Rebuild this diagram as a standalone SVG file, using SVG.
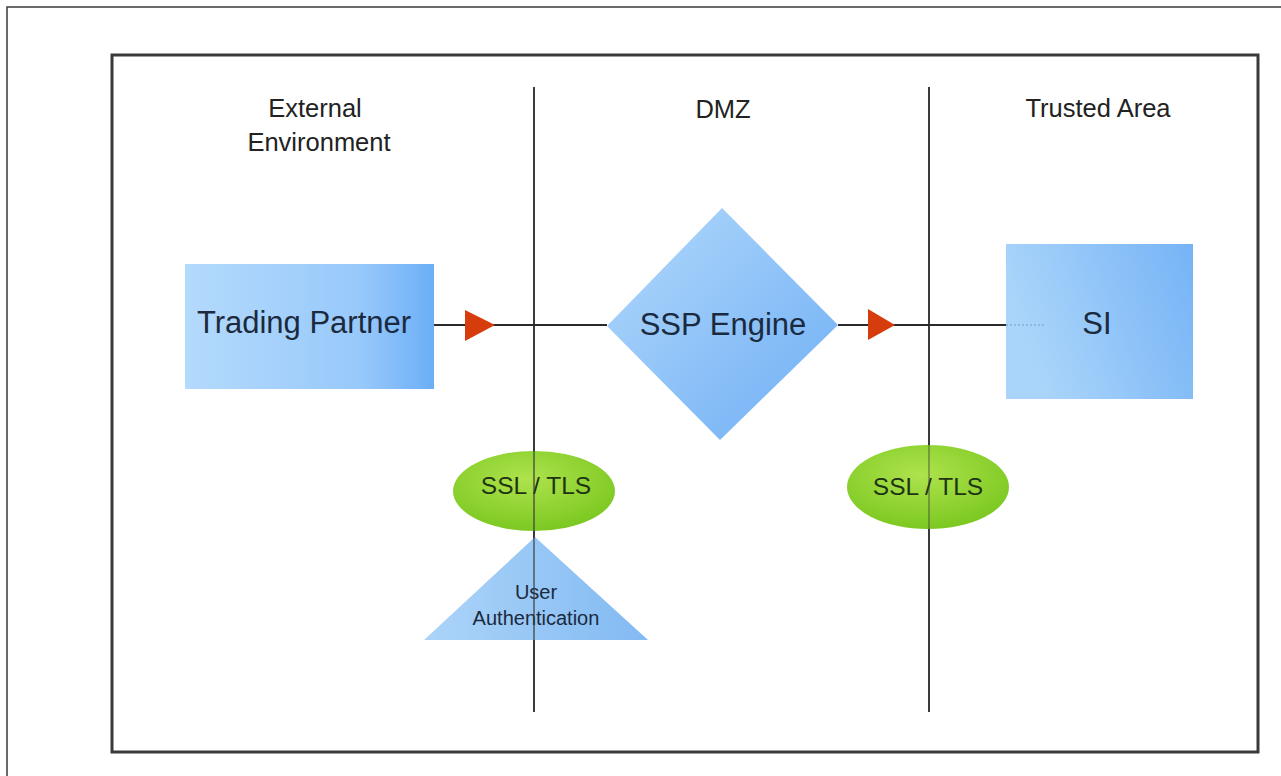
<svg xmlns="http://www.w3.org/2000/svg" width="1281" height="776" viewBox="0 0 1281 776">
  <style>
    .frame { fill: none; stroke: #3a3a3a; }
    .divider { stroke: #3a3a3a; stroke-width: 2; }
    .head { font-family: "Liberation Sans", Arial, sans-serif; font-size: 25.5px; fill: #222; text-anchor: middle; }
    .label { font-family: "Liberation Sans", Arial, sans-serif; fill: #1b2a3e; text-anchor: middle; }
    .green { font-family: "Liberation Sans", Arial, sans-serif; font-size: 24.5px; fill: #1e3412; text-anchor: middle; }
    .conn { stroke: #2a2a2a; stroke-width: 2; fill: none; }
    .head-tri { fill: #d63c0c; }
  </style>
  <defs>
    <linearGradient id="gTP" x1="0" y1="0" x2="1" y2="0">
      <stop offset="0" stop-color="#b4dafc"/>
      <stop offset="0.7" stop-color="#98c9fb"/>
      <stop offset="0.92" stop-color="#78b6f8"/>
      <stop offset="1" stop-color="#6aaef6"/>
    </linearGradient>
    <linearGradient id="gDia" x1="0" y1="0" x2="1" y2="1">
      <stop offset="0" stop-color="#b2d9fb"/>
      <stop offset="1" stop-color="#6eaef5"/>
    </linearGradient>
    <linearGradient id="gSI" x1="0" y1="0.3" x2="1" y2="0">
      <stop offset="0" stop-color="#aad5fa"/>
      <stop offset="1" stop-color="#76b3f6"/>
    </linearGradient>
    <linearGradient id="gTri" x1="0" y1="0" x2="1" y2="0">
      <stop offset="0" stop-color="#acd4f8"/>
      <stop offset="1" stop-color="#82baf3"/>
    </linearGradient>
    <radialGradient id="gGreen" cx="0.45" cy="0.35" r="0.65">
      <stop offset="0" stop-color="#aee34c"/>
      <stop offset="1" stop-color="#7cc822"/>
    </radialGradient>
  </defs>

  <rect width="1281" height="776" fill="#ffffff"/>
  <rect class="frame" x="7" y="7" width="1290" height="790" stroke-width="1.5"/>
  <rect class="frame" x="112" y="55" width="1146" height="697" stroke-width="3"/>

  <g id="headers">
    <text class="head" x="315" y="117">External</text>
    <text class="head" x="319" y="151">Environment</text>
    <text class="head" x="723" y="118">DMZ</text>
    <text class="head" x="1098" y="117">Trusted Area</text>
  </g>

  <g id="boundaries">
    <line class="divider" x1="534" y1="87" x2="534" y2="712"/>
    <line class="divider" x1="929" y1="87" x2="929" y2="712"/>
  </g>

  <g id="connectors">
    <line class="conn" x1="434" y1="325" x2="607" y2="325"/>
    <polygon class="head-tri" points="465,310 495,325 465,341"/>
    <line class="conn" x1="838" y1="325" x2="1006" y2="325"/>
    <polygon class="head-tri" points="868,309 895,325 868,340"/>
  </g>

  <g id="trading-partner">
    <rect x="185" y="264" width="249" height="125" fill="url(#gTP)"/>
    <text class="label" x="304" y="333" font-size="31">Trading Partner</text>
  </g>

  <g id="ssp-engine">
    <polygon points="722,208 838,325 720,440 607,326" fill="url(#gDia)"/>
    <text class="label" x="723" y="335" font-size="31">SSP Engine</text>
  </g>

  <g id="si">
    <rect x="1006" y="244" width="187" height="155" fill="url(#gSI)"/>
    <line x1="1006" y1="325" x2="1045" y2="325" stroke="#7a9ab8" stroke-width="1" stroke-dasharray="2,2"/>
    <text class="label" x="1097" y="334" font-size="31">SI</text>
  </g>

  <g id="ssl-tls-left">
    <ellipse cx="534" cy="491" rx="81" ry="40" fill="url(#gGreen)"/>
    <text class="green" x="536" y="494">SSL / TLS</text>
  </g>

  <g id="ssl-tls-right">
    <ellipse cx="928" cy="487" rx="81" ry="42" fill="url(#gGreen)"/>
    <text class="green" x="928" y="495">SSL / TLS</text>
  </g>

  <g id="user-authentication">
    <polygon points="535,537 648,640 424,640" fill="url(#gTri)"/>
    <text class="label" x="536" y="599" font-size="20">User</text>
    <text class="label" x="536" y="625" font-size="20">Authentication</text>
  </g>

  <line class="divider" x1="534" y1="450" x2="534" y2="712" stroke-opacity="0.6"/>
  <line class="divider" x1="929" y1="445" x2="929" y2="530" stroke-opacity="0.4"/>
</svg>
